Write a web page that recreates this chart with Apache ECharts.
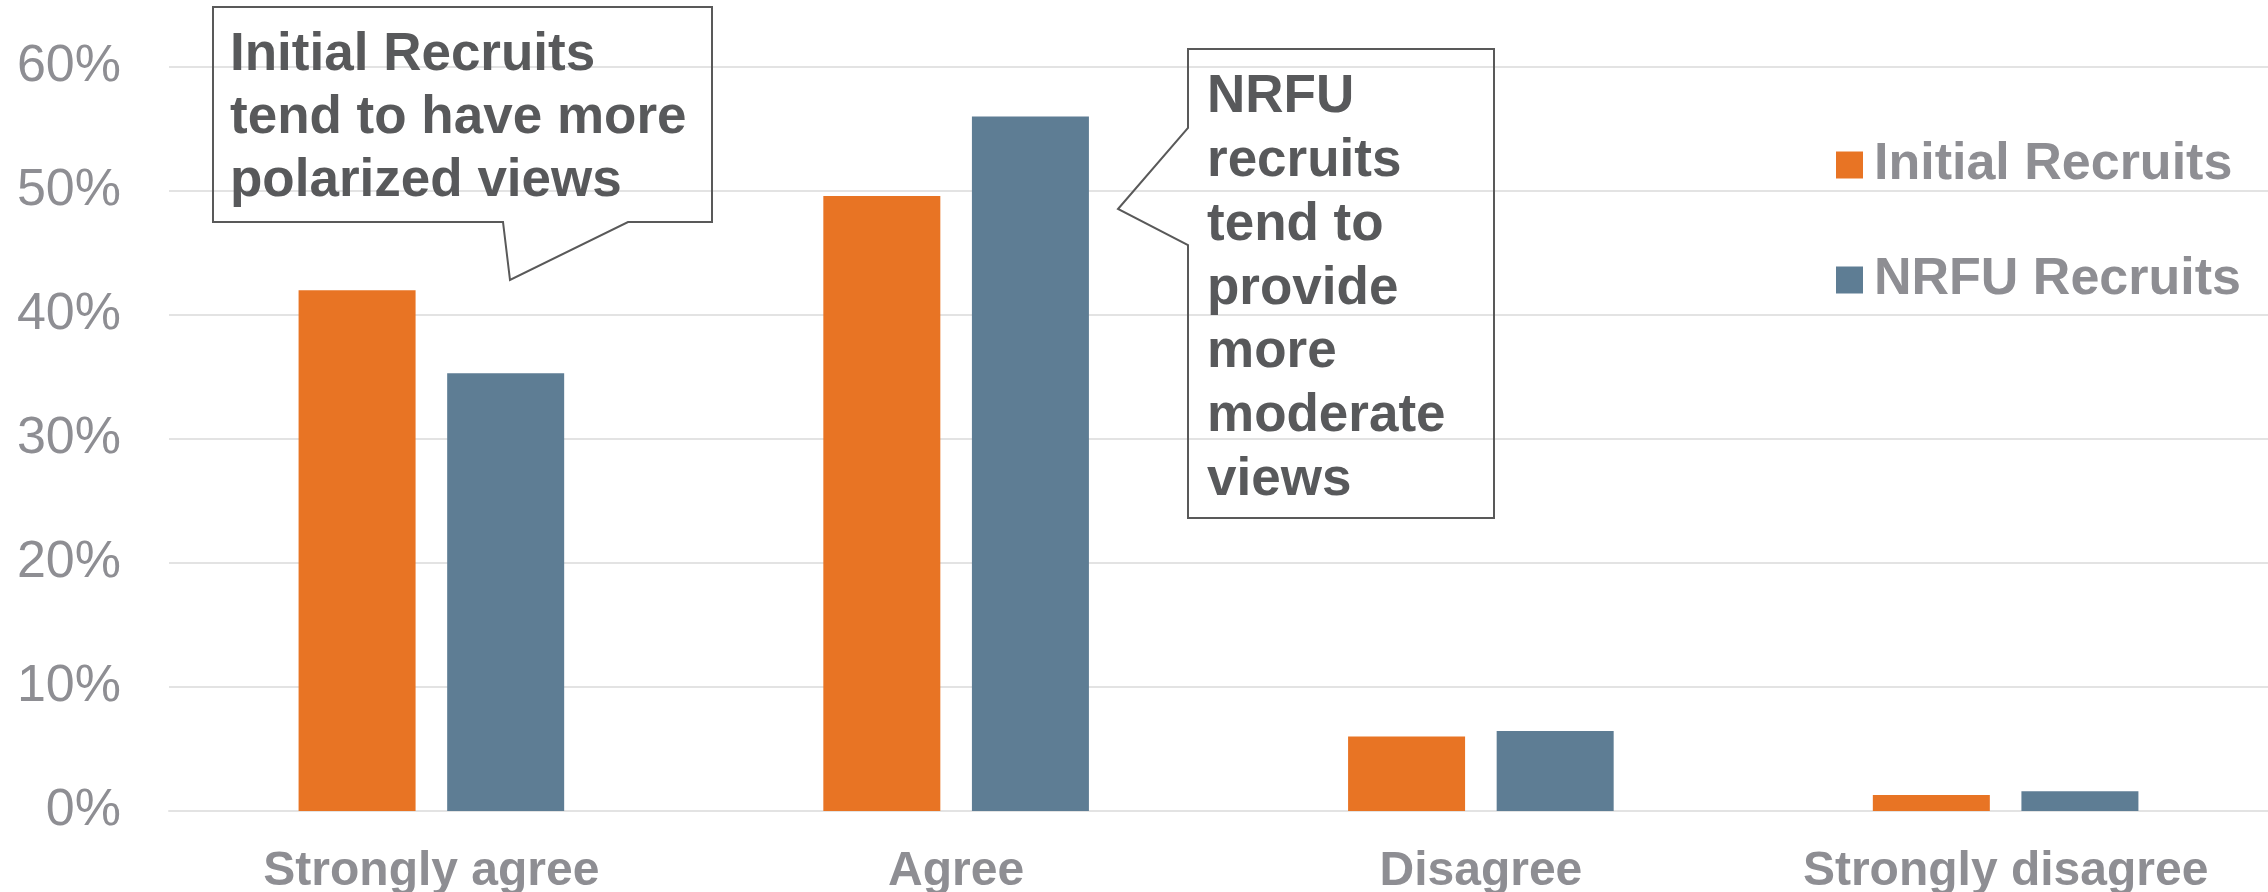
<!DOCTYPE html>
<html>
<head>
<meta charset="utf-8">
<title>Initial vs NRFU recruits</title>
<script src="https://cdn.jsdelivr.net/npm/echarts@6/dist/echarts.min.js"></script>
<style>
  html, body { margin: 0; padding: 0; background: #fff; }
  #chart { width: 2268px; height: 892px; }
</style>
</head>
<body>
<div id="chart"></div>
<script>
  // data (percent)
  const categories = ['Strongly agree', 'Agree', 'Disagree', 'Strongly disagree']
  const initialRecruits = [42.0, 49.6, 6.0, 1.3]
  const nrfuRecruits = [35.3, 56.0, 6.45, 1.6]
  const seriesNames = ['Initial Recruits', 'NRFU Recruits']

  const yMin = 0
  const yMax = 60
  const yStep = 10

  const note1 = ['Initial Recruits', 'tend to have more', 'polarized views']
  const note2 = ['NRFU', 'recruits', 'tend to', 'provide', 'more', 'moderate', 'views']

  const font = '"Liberation Sans", Arial, Helvetica, sans-serif'
  const grey = '#8E8E93'
  const dark = '#58595B'

  const chart = echarts.init(document.getElementById('chart'))

  const option = {
    animation: false,
    color: ['#E87424', '#5E7D94'],
    grid: {
      left: 169,
      right: 0,
      top: 67,
      bottom: 81,
      outerBoundsMode: 'none'
    },
    legend: {
      data: seriesNames,
      orient: 'vertical',
      left: 1831,
      top: 134,
      icon: 'rect',
      itemWidth: 27,
      itemHeight: 27,
      itemGap: 63,
      textStyle: {
        fontFamily: font,
        fontWeight: 'bold',
        fontSize: 52,
        lineHeight: 52,
        color: grey,
        padding: [0, 0, 0, 6]
      }
    },
    xAxis: {
      type: 'category',
      data: categories,
      axisTick: { show: false },
      axisLine: { lineStyle: { color: '#E3E3E3', width: 2 } },
      axisLabel: {
        interval: 0,
        margin: 37,
        fontFamily: font,
        fontWeight: 'bold',
        fontSize: 48,
        color: grey
      }
    },
    yAxis: {
      type: 'value',
      min: yMin,
      max: yMax,
      interval: yStep,
      axisLine: { show: false },
      axisTick: { show: false },
      splitLine: { lineStyle: { color: '#E3E3E3', width: 2 } },
      axisLabel: {
        margin: 48,
        formatter: '{value}%',
        fontFamily: font,
        fontSize: 52,
        color: grey
      }
    },
    series: [
      {
        name: seriesNames[0],
        type: 'bar',
        data: initialRecruits,
        barWidth: 117,
        barGap: '27%'
      },
      {
        name: seriesNames[1],
        type: 'bar',
        data: nrfuRecruits,
        barWidth: 117,
        barGap: '27%'
      }
    ],
    graphic: [
      {
        type: 'polygon',
        silent: true,
        z: 100,
        shape: {
          points: [[213, 7], [712, 7], [712, 222], [628, 222], [510, 280], [503, 222], [213, 222]]
        },
        style: { fill: 'none', stroke: '#595959', lineWidth: 2 }
      },
      {
        type: 'text',
        silent: true,
        z: 101,
        x: 230,
        y: 24,
        style: {
          text: note1.join('\n'),
          fontFamily: font,
          fontWeight: 'bold',
          fontSize: 53,
          lineHeight: 63,
          fill: dark
        }
      },
      {
        type: 'polygon',
        silent: true,
        z: 100,
        shape: {
          points: [[1188, 49], [1494, 49], [1494, 518], [1188, 518], [1188, 245], [1118, 209], [1188, 128]]
        },
        style: { fill: 'none', stroke: '#595959', lineWidth: 2 }
      },
      {
        type: 'text',
        silent: true,
        z: 101,
        x: 1207,
        y: 66,
        style: {
          text: note2.join('\n'),
          fontFamily: font,
          fontWeight: 'bold',
          fontSize: 53,
          lineHeight: 63.7,
          fill: dark
        }
      }
    ]
  }

  chart.setOption(option)
</script>
</body>
</html>
